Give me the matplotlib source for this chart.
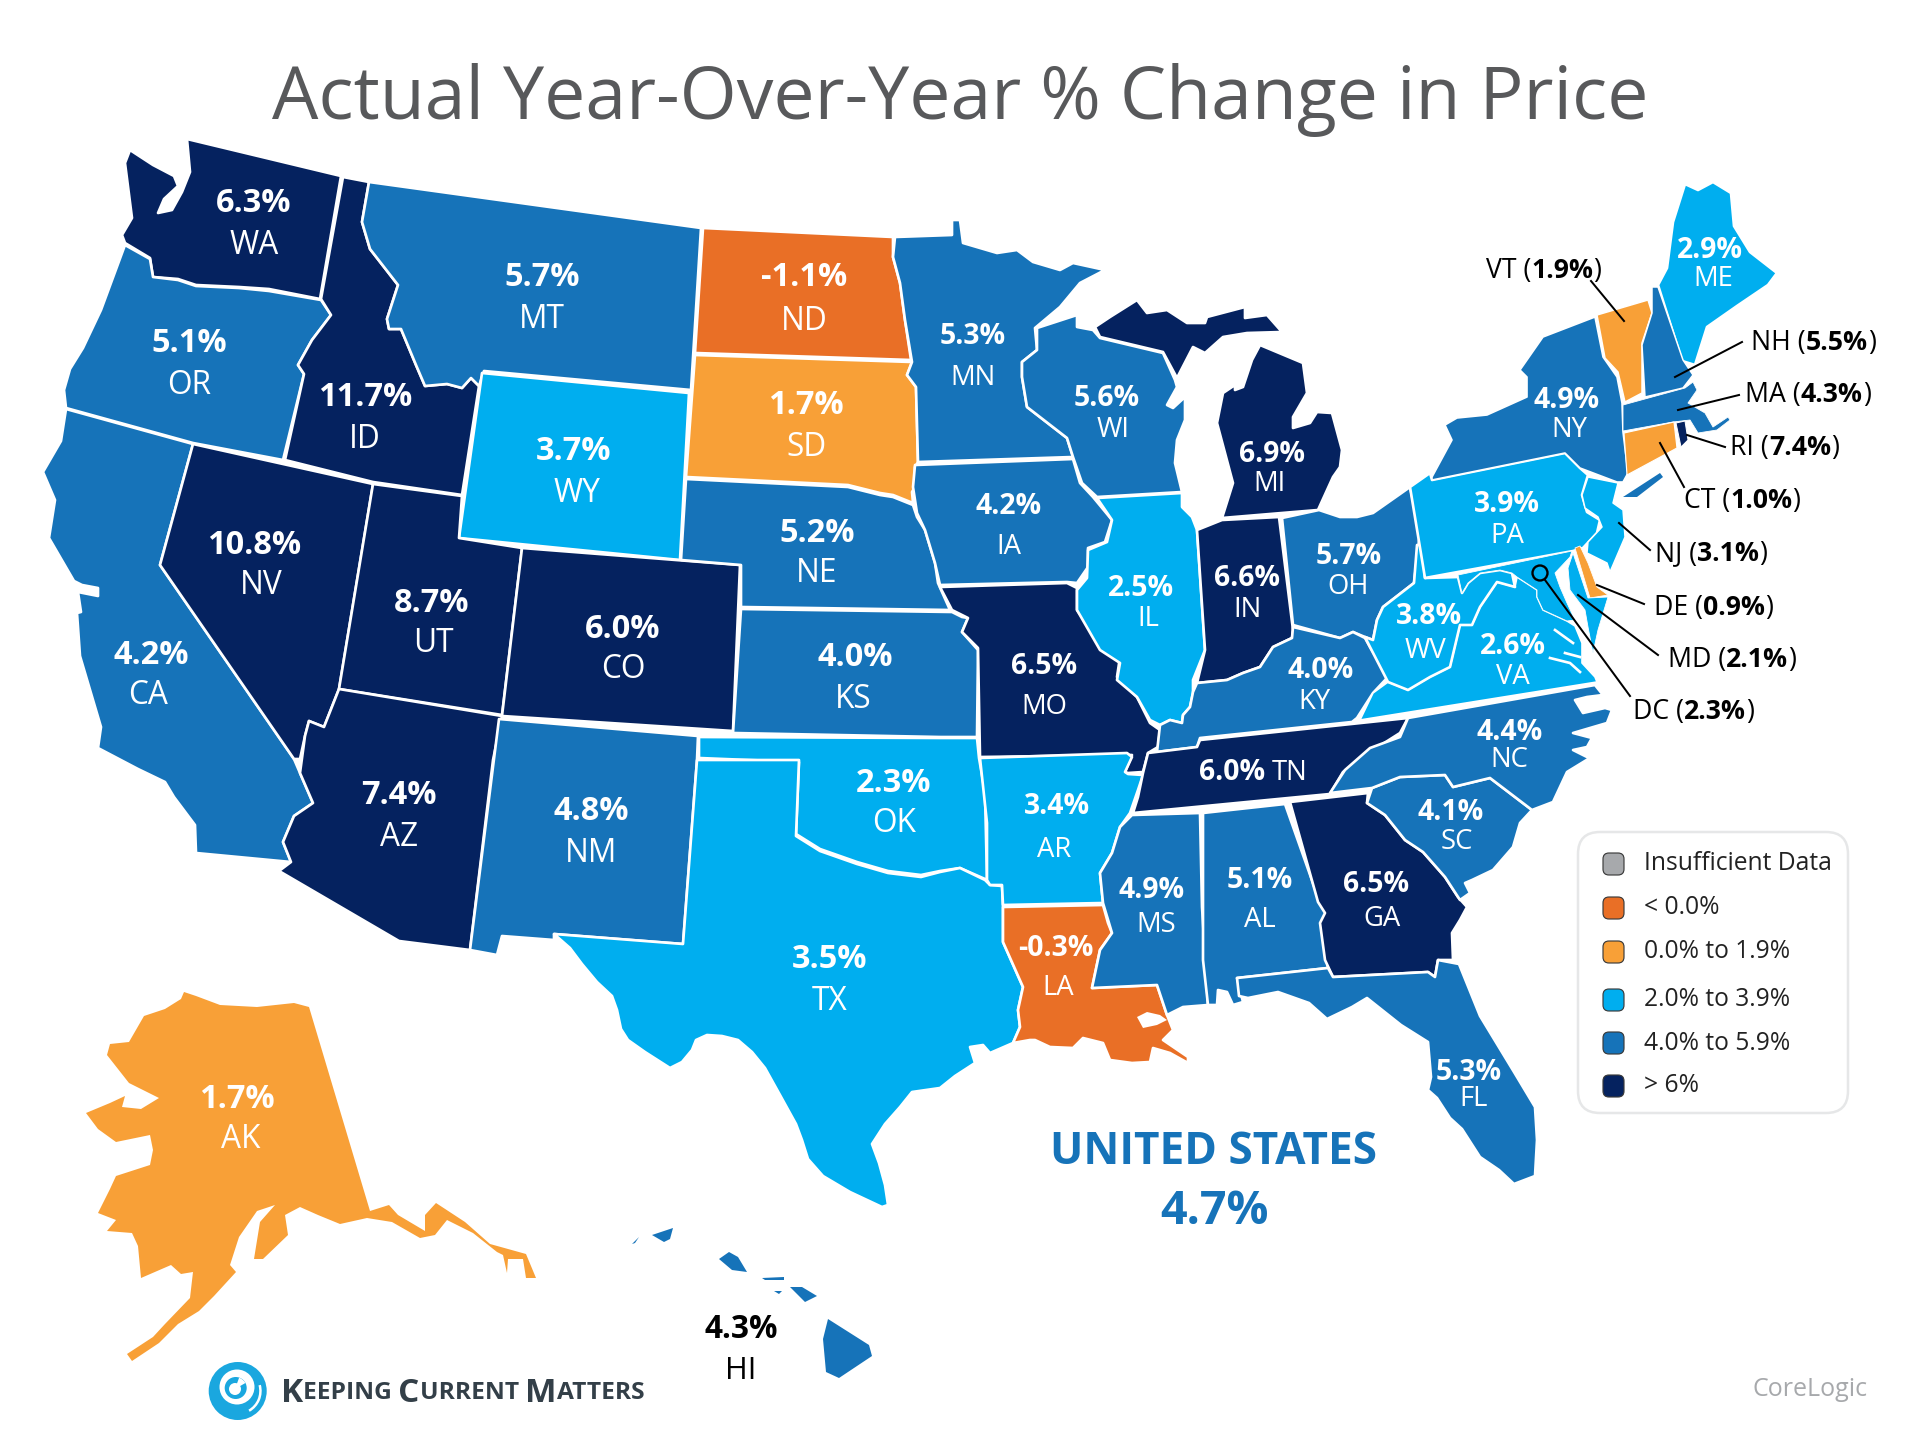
import numpy as np, matplotlib
matplotlib.use("Agg"); import matplotlib.pyplot as plt
from matplotlib.patches import Circle, FancyBboxPatch, Wedge
plt.rcParams["font.family"] = ["Open Sans", "DejaVu Sans"]

# values
codes = ["WA","OR","CA","NV","ID","MT","WY","UT","CO","AZ","NM","ND","SD","NE","KS","OK","TX","MN","IA","MO","AR","LA",
         "WI","IL","MI","IN","OH","KY","TN","MS","AL","GA","FL","SC","NC","VA","WV","PA","NY","ME","AK","HI",
         "VT","NH","MA","RI","CT","NJ","DE","MD"]
values = [6.3,5.1,4.2,10.8,11.7,5.7,3.7,8.7,6.0,7.4,4.8,-1.1,1.7,5.2,4.0,2.3,3.5,5.3,4.2,6.5,3.4,-0.3,
          5.6,2.5,6.9,6.6,5.7,4.0,6.0,4.9,5.1,6.5,5.3,4.1,4.4,2.6,3.8,3.9,4.9,2.9,1.7,4.3,
          1.9,5.5,4.3,7.4,1.0,3.1,0.9,2.1]
dc_value = 2.3
us_value = 4.7
bin_edges = [0, 2, 4, 6]
bin_colors = ["#e96f26", "#f8a037", "#00aeef", "#1673b9", "#05225f"]
legend_labels = ["Insufficient Data", "< 0.0%", "0.0% to 1.9%", "2.0% to 3.9%", "4.0% to 5.9%", "> 6%"]
legend_colors = ["#a7a9ac"] + bin_colors

# state outlines, traced in image pixels
WA = [(187,139),(341,176),(320,299),(269,289),(239,287),(196,285),(178,279),(153,277),(150,258),(125,243),(122,235),(132,218),(125,163),(130,150),(153,165),(174,176),(178,186),(164,199),(158,213),(172,210),(182,192),(190,172)]
OR = [(125,245),(150,259),(153,277),(178,280),(196,286),(239,288),(269,291),(321,300),(331,315),(312,340),(298,365),(304,374),(283,460),(193,443),(66,408),(64,390),(70,369),(83,348),(101,310)]
CA = [(66,409),(193,444),(160,565),(294,759),(300,773),(313,803),(294,816),(283,842),(291,862),(196,853),(195,825),(174,797),(165,782),(138,769),(98,748),(101,727),(80,656),(77,613),(81,612),(78,592),(98,596),(98,588),(82,585),(74,581),(49,538),(55,500),(43,472),(61,441)]
NV = [(193,444),(373,484),(339,689),(324,727),(309,721),(305,736),(300,759),(294,759),(160,565)]
ID = [(343,177),(369,182),(362,222),(370,249),(398,285),(387,319),(389,329),(401,329),(416,365),(425,386),(447,384),(462,388),(471,378),(479,386),(462,495),(373,482),(285,460),(304,374),(298,365),(312,340),(331,315),(321,299)]
MT = [(369,182),(701,228),(691,390),(484,371),(479,386),(471,378),(462,388),(447,384),(425,386),(416,365),(401,329),(389,329),(387,319),(398,285),(370,249),(362,222)]
WY = [(482,373),(689,393),(680,560),(459,538)]
UT = [(373,484),(462,496),(459,538),(522,548),(502,715),(339,689)]
CO = [(522,548),(740,565),(733,731),(502,716)]
AZ = [(339,689),(502,716),(493,760),(470,950),(399,941),(279,871),(291,862),(283,842),(294,816),(313,803),(300,773),(305,736),(309,721),(324,727)]
NM = [(499,719),(698,736),(697,760),(683,944),(554,934),(554,940),(502,936),(497,955),(470,950)]
ND = [(703,228),(893,237),(893,257),(900,283),(905,320),(911,360),(695,353)]
SD = [(695,355),(912,362),(907,375),(916,387),(918,462),(915,467),(915,487),(912,492),(913,503),(893,495),(880,493),(848,485),(686,477)]
NE = [(686,479),(848,487),(880,495),(893,497),(913,505),(917,517),(925,530),(935,563),(938,583),(950,610),(741,607),(741,565),(681,560)]
KS = [(741,609),(952,612),(962,617),(968,618),(962,632),(978,650),(977,737),(940,737),(733,733)]
OK = [(699,737),(940,738),(977,738),(979,758),(985,793),(987,880),(985,879),(960,868),(940,871),(921,875),(888,871),(857,862),(820,849),(796,834),(799,762),(699,758)]
TX = [(697,760),(799,760),(796,836),(820,851),(857,864),(888,873),(921,877),(940,872),(960,868),(985,880),(990,885),(1002,886),(1003,907),(1003,942),(1023,987),(1018,1010),(1020,1027),(1013,1043),(990,1053),(983,1045),(970,1047),(975,1063),(955,1076),(940,1088),(912,1092),(900,1107),(885,1124),(872,1144),(879,1163),(885,1185),(888,1205),(882,1207),(850,1192),(823,1176),(808,1159),(802,1140),(796,1124),(780,1095),(765,1068),(752,1052),(738,1040),(722,1036),(707,1035),(696,1040),(692,1050),(682,1062),(670,1068),(645,1052),(628,1040),(621,1029),(617,1010),(612,996),(597,982),(582,964),(570,948),(554,934),(683,944)]
MN = [(952,235),(952,220),(960,220),(963,243),(997,253),(1017,250),(1033,262),(1060,270),(1073,263),(1105,270),(1080,283),(1060,307),(1035,328),(1037,350),(1022,362),(1022,377),(1027,407),(1067,438),(1073,457),(918,462),(916,387),(907,375),(912,362),(905,320),(900,283),(893,257),(895,237)]
IA = [(915,465),(1073,459),(1080,483),(1093,497),(1112,520),(1105,542),(1088,548),(1088,567),(1077,583),(1067,582),(940,585),(935,563),(925,530),(917,513),(913,487)]
MO = [(940,587),(1067,583),(1077,588),(1077,610),(1103,647),(1120,657),(1117,677),(1137,697),(1150,723),(1160,730),(1158,747),(1148,753),(1143,772),(1128,773),(1125,772),(1132,755),(980,757),(978,648),(962,632),(968,618),(952,610)]
AR = [(980,758),(1127,753),(1132,757),(1125,772),(1128,774),(1143,775),(1138,790),(1130,813),(1120,827),(1112,853),(1100,873),(1103,903),(1003,905),(1002,885),(990,885),(987,880),(987,823)]
LA = [(1003,907),(1103,905),(1108,923),(1112,933),(1100,950),(1092,988),(1157,985),(1167,1015),(1173,1030),(1163,1040),(1188,1057),(1188,1063),(1170,1053),(1153,1048),(1150,1062),(1132,1063),(1110,1060),(1103,1043),(1083,1038),(1073,1048),(1050,1047),(1035,1040),(1030,1040),(1013,1043),(1020,1027),(1018,1010),(1023,987),(1003,942)]
LAKE = [(1137,1017),(1147,1012),(1160,1015),(1167,1020),(1157,1025),(1143,1028)]
WI = [(1037,328),(1077,315),(1077,327),(1093,330),(1100,338),(1163,353),(1175,380),(1177,387),(1167,405),(1173,408),(1185,397),(1185,420),(1177,440),(1175,463),(1182,492),(1097,497),(1082,483),(1073,457),(1067,438),(1027,407),(1022,377),(1022,362),(1037,350)]
IL = [(1097,498),(1182,493),(1182,507),(1192,517),(1197,530),(1205,650),(1193,680),(1193,693),(1190,707),(1183,715),(1182,723),(1170,720),(1160,725),(1150,720),(1137,697),(1117,680),(1120,663),(1100,650),(1077,610),(1077,590),(1087,578),(1088,550),(1107,542),(1112,520)]
MI_UP = [(1095,327),(1110,317),(1137,300),(1147,313),(1167,310),(1187,323),(1205,323),(1207,317),(1245,307),(1245,318),(1267,315),(1282,332),(1247,333),(1223,337),(1205,353),(1193,347),(1177,378),(1163,352),(1100,337)]
MI_LP = [(1260,345),(1303,363),(1307,393),(1293,417),(1293,428),(1310,423),(1317,412),(1332,413),(1342,450),(1340,467),(1333,477),(1318,510),(1222,518),(1233,483),(1217,423),(1223,393),(1235,385),(1235,390),(1243,387),(1252,360)]
IN = [(1197,530),(1222,520),(1279,517),(1293,630),(1292,638),(1273,647),(1260,667),(1243,673),(1227,680),(1197,683),(1205,650)]
OH = [(1282,518),(1319,510),(1340,517),(1357,517),(1373,513),(1410,487),(1420,533),(1414,583),(1383,607),(1377,620),(1373,640),(1365,637),(1353,632),(1340,638),(1293,625)]
KY = [(1293,627),(1340,638),(1353,632),(1365,638),(1370,647),(1388,677),(1373,693),(1357,718),(1352,722),(1200,738),(1197,747),(1157,752),(1160,725),(1170,720),(1182,723),(1183,715),(1190,707),(1193,692),(1197,683),(1227,680),(1243,673),(1260,667),(1273,647),(1292,638)]
TN = [(1200,740),(1408,718),(1400,733),(1370,752),(1343,772),(1330,794),(1133,813),(1138,797),(1143,773),(1148,753),(1197,747)]
MS = [(1132,815),(1200,813),(1202,907),(1208,1005),(1183,1007),(1167,1015),(1157,985),(1092,988),(1100,950),(1112,933),(1103,903),(1100,873),(1112,853),(1120,827)]
AL = [(1203,813),(1285,804),(1320,903),(1327,915),(1322,930),(1328,968),(1237,978),(1243,1002),(1233,1005),(1227,992),(1218,990),(1217,1005),(1208,1005),(1203,960)]
GA = [(1290,802),(1368,793),(1367,803),(1385,815),(1405,840),(1423,852),(1445,877),(1458,897),(1467,907),(1460,920),(1452,933),(1453,960),(1438,960),(1435,977),(1428,972),(1333,977),(1325,960),(1320,923),(1325,913),(1318,902)]
FL = [(1237,978),(1328,968),(1333,977),(1428,972),(1435,977),(1438,960),(1459,964),(1480,1016),(1514,1072),(1535,1107),(1537,1140),(1535,1176),(1514,1184),(1499,1170),(1480,1157),(1462,1129),(1450,1118),(1437,1098),(1428,1090),(1431,1077),(1428,1042),(1401,1025),(1367,998),(1352,1007),(1327,1019),(1309,1003),(1278,992),(1248,998),(1239,996)]
SC = [(1372,788),(1400,777),(1445,775),(1453,787),(1490,778),(1532,810),(1520,823),(1513,847),(1493,870),(1472,880),(1465,883),(1470,893),(1460,900),(1445,877),(1423,852),(1405,840),(1385,815),(1367,803)]
NC = [(1408,718),(1595,685),(1603,695),(1587,697),(1575,700),(1583,713),(1605,708),(1612,710),(1607,723),(1573,733),(1592,738),(1587,747),(1573,750),(1587,757),(1598,753),(1567,772),(1553,802),(1532,810),(1490,778),(1453,787),(1445,775),(1400,777),(1372,788),(1330,793),(1345,770),(1370,748),(1400,737)]
VA = [(1360,720),(1597,682),(1595,677),(1582,663),(1582,643),(1575,626),(1567,621),(1543,610),(1537,597),(1537,590),(1517,577),(1515,587),(1497,582),(1480,607),(1472,625),(1460,625),(1450,667),(1430,677),(1408,690),(1388,682),(1373,693)]
WV = [(1425,578),(1458,577),(1462,593),(1468,583),(1480,573),(1500,570),(1512,573),(1515,587),(1497,582),(1480,607),(1472,625),(1460,625),(1450,667),(1430,677),(1408,690),(1388,682),(1370,647),(1365,637),(1373,640),(1377,620),(1383,607),(1414,583),(1417,545),(1422,545)]
PA = [(1410,487),(1430,473),(1432,480),(1565,453),(1580,468),(1588,475),(1582,495),(1587,512),(1600,520),(1597,533),(1583,548),(1573,551),(1425,578)]
NY = [(1432,477),(1452,440),(1445,425),(1457,418),(1487,415),(1527,397),(1527,377),(1520,370),(1543,337),(1595,317),(1603,357),(1617,377),(1622,403),(1623,432),(1628,473),(1623,482),(1617,482),(1580,468),(1565,453),(1432,480)]
LONG_ISLAND = [(1623,497),(1660,473),(1663,477),(1637,497)]
NJ = [(1588,477),(1618,483),(1613,503),(1623,510),(1625,537),(1610,572),(1607,563),(1587,553),(1588,542),(1602,527),(1598,517),(1585,508),(1582,495)]
DE = [(1575,548),(1580,546),(1588,563),(1597,587),(1608,595),(1590,598)]
MD_WEST = [(1458,575),(1572,551),(1570,557),(1555,573),(1560,587),(1567,603),(1575,620),(1567,621),(1543,610),(1537,597),(1537,590),(1517,577),(1512,573),(1500,570),(1480,573),(1468,583),(1462,593)]
MD_EAST = [(1573,553),(1588,598),(1608,597),(1598,630),(1593,653),(1588,627),(1585,610),(1570,590),(1568,568)]
CT = [(1624,433),(1674,422),(1677,448),(1627,475)]
RI = [(1676,423),(1685,421),(1688,440),(1681,447)]
MA = [(1623,405),(1685,388),(1693,382),(1697,390),(1688,403),(1705,413),(1713,427),(1728,417),(1730,420),(1717,430),(1698,433),(1690,420),(1673,422),(1623,431)]
VT = [(1597,315),(1648,300),(1652,313),(1642,343),(1642,393),(1625,402),(1618,372),(1605,358)]
NH = [(1652,287),(1658,287),(1683,360),(1693,375),(1683,388),(1645,397),(1642,345),(1652,313)]
ME = [(1658,285),(1667,268),(1673,222),(1685,184),(1698,190),(1713,182),(1731,193),(1734,226),(1750,252),(1777,273),(1768,285),(1737,306),(1707,327),(1695,365),(1682,361)]
AK = [(184,992),(196,996),(220,1005),(257,1007),(294,1003),(309,1007),(370,1211),(389,1205),(398,1215),(425,1231),(425,1215),(436,1203),(465,1222),(490,1244),(526,1254),(536,1278),(526,1278),(523,1259),(508,1259),(507,1273),(503,1255),(497,1252),(473,1233),(447,1220),(435,1235),(420,1238),(392,1222),(367,1218),(340,1224),(318,1215),(300,1207),(285,1215),(288,1235),(263,1259),(254,1259),(260,1222),(275,1205),(257,1211),(239,1237),(230,1265),(236,1272),(214,1296),(199,1311),(178,1324),(159,1343),(132,1361),(127,1354),(153,1337),(165,1324),(190,1298),(193,1272),(181,1274),(171,1265),(141,1278),(138,1246),(132,1233),(107,1231),(116,1220),(98,1213),(110,1189),(116,1176),(150,1165),(153,1150),(150,1135),(116,1142),(98,1129),(86,1113),(110,1103),(125,1096),(122,1107),(141,1109),(159,1098),(129,1083),(107,1055),(110,1044),(129,1042),(144,1016),(165,1009),(181,999)]
HI_BIG = [(828,1319),(869,1345),(872,1356),(839,1378),(826,1372),(823,1339)]
HI_MAUI = [(790,1287),(802,1287),(817,1296),(805,1302)]
HI_MOLOKAI = [(762,1278),(784,1277),(784,1280),(765,1280)]
HI_LANAI = [(774,1291),(782,1291),(779,1294)]
HI_OAHU = [(729,1252),(738,1257),(747,1272),(732,1270),(719,1259)]
HI_KAUAI = [(652,1235),(673,1228),(670,1239),(664,1242)]
HI_NIIHAU = [(632,1244),(639,1237),(635,1243)]
shapes = {"WA":[WA],"OR":[OR],"CA":[CA],"NV":[NV],"ID":[ID],"MT":[MT],"WY":[WY],"UT":[UT],"CO":[CO],"AZ":[AZ],"NM":[NM],"ND":[ND],"SD":[SD],"NE":[NE],"KS":[KS],"OK":[OK],"TX":[TX],"MN":[MN],"IA":[IA],"MO":[MO],"AR":[AR],"LA":[LA],
          "WI":[WI],"IL":[IL],"MI":[MI_UP,MI_LP],"IN":[IN],"OH":[OH],"KY":[KY],"TN":[TN],"MS":[MS],"AL":[AL],"GA":[GA],"FL":[FL],"SC":[SC],"NC":[NC],"VA":[VA],"WV":[WV],"PA":[PA],"NY":[NY,LONG_ISLAND],"ME":[ME],"AK":[AK],
          "HI":[HI_BIG,HI_MAUI,HI_MOLOKAI,HI_LANAI,HI_OAHU,HI_KAUAI,HI_NIIHAU],"VT":[VT],"NH":[NH],"MA":[MA],"RI":[RI],"CT":[CT],"NJ":[NJ],"DE":[DE],"MD":[MD_WEST,MD_EAST]}
# rivers cut into Virginia, white
rivers = [[(1555,630),(1573,643)], [(1565,653),(1580,657)], [(1550,658),(1570,663),(1580,672)]]
thin_edge = {"VT":0.9,"NH":0.9,"MA":0.5,"RI":0.6,"CT":0.7,"NJ":0.9,"DE":0.5,"MD":0.5,"VA":1.0,"NY":1.0,"AK":0,"HI":0}

# label places: percent x,y then code x,y
big_labels = {"WA":(254,204,254,246),"MT":(542,278,542,320),"ND":(804,278,804,321),"OR":(189,344,189,385),"ID":(365,398,365,440),"SD":(806,405,806,447),"WY":(574,452,577,494),"NV":(254,545,261,586),"NE":(817,534,817,573),"UT":(432,603,433,644),"CO":(623,629,623,670),"CA":(151,655,148,696),"KS":(855,658,853,700),"AZ":(399,796,399,837),"NM":(591,811,591,853),"OK":(894,783,894,824),"TX":(830,959,830,1001),"AK":(237,1099,241,1140)}
small_labels = {"MN":(973,336,973,378),"WI":(1107,398,1113,430),"IA":(1009,506,1009,547),"MI":(1272,455,1269,484),"IL":(1141,588,1148,619),"IN":(1247,578,1247,610),"MO":(1044,666,1044,707),"KY":(1321,670,1314,702),"AR":(1057,807,1054,850),"TN":(1232,773,1290,773),"MS":(1152,890,1156,925),"AL":(1260,881,1260,920),"GA":(1376,885,1382,919),"LA":(1056,949,1058,988),"NY":(1567,400,1569,430),"PA":(1507,505,1507,536),"OH":(1349,557,1348,587),"WV":(1429,617,1425,651),"VA":(1513,647,1513,677),"NC":(1510,732,1509,760),"SC":(1451,813,1457,842),"FL":(1469,1072,1474,1099),"ME":(1710,251,1713,279)}
# callouts: text left x,y then leader x0,y0,x1,y1
callouts = {"VT":(1486,271,1591,281,1624,321),"NH":(1751,343,1742,342,1675,377),"MA":(1745,395,1739,395,1678,410),"RI":(1730,448,1725,447,1687,435),"CT":(1684,501,1684,487,1660,443),"NJ":(1655,554,1650,550,1619,523),"DE":(1654,608,1644,604,1597,585),"MD":(1668,660,1658,655,1578,595),"DC":(1633,712,1630,696,1545,580)}

fig = plt.figure(figsize=(16,12), dpi=120)
ax = fig.add_axes([0,0,1,1]); ax.set_xlim(0,1920); ax.set_ylim(1440,0); ax.axis("off")
val = dict(zip(codes, values)); val["DC"] = dc_value

for code in codes:
    col = bin_colors[np.digitize(val[code], bin_edges)]
    lw = thin_edge.get(code, 1.6)
    for poly in shapes[code]:
        p = np.array(poly)
        ec = "white" if lw > 0 and poly is not LONG_ISLAND else "none"
        ax.fill(p[:,0], p[:,1], fc=col, ec=ec, lw=lw, joinstyle="round", zorder=2)
p = np.array(LAKE); ax.fill(p[:,0], p[:,1], fc="white", ec="none", zorder=3)
for riv in rivers:
    p = np.array(riv); ax.plot(p[:,0], p[:,1], color="white", lw=1.6, zorder=3)

ax.text(960, 100, "Actual Year-Over-Year % Change in Price", ha="center", va="center", fontsize=44, color="#58595b")

def fmt(v): return f"{v:.1f}%"
for table, fs in ((big_labels, 19.5), (small_labels, 17)):
    for code, (x0,y0,x1,y1) in table.items():
        ax.text(x0, y0, fmt(val[code]), ha="center", va="center", fontsize=fs, fontweight="bold", color="white", zorder=5)
        ax.text(x1, y1, code, ha="center", va="center", fontsize=fs-0.5, color="white", zorder=5)
ax.text(741, 1329, fmt(val["HI"]), ha="center", va="center", fontsize=19, fontweight="bold", color="black")
ax.text(741, 1371, "HI", ha="center", va="center", fontsize=18.5, color="black")

r = fig.canvas.get_renderer()
def run(x, y, parts, **kw):
    # lay out text pieces one after the other, returns end x
    for s, extra in parts:
        t = ax.text(x, y, s, va="center", ha="left", **{**kw, **extra})
        bb = t.get_window_extent(r)
        x += bb.width * 1920 / fig.bbox.width
    return x

for code, (tx,ty,x0,y0,x1,y1) in callouts.items():
    run(tx, ty, [(code + " (", {}), (fmt(val[code]), {"fontweight":"bold"}), (")", {})], fontsize=16, color="black", zorder=6)
    ax.plot([x0,x1], [y0,y1], color="black", lw=1.2, zorder=6)
ax.add_patch(Circle((1540,573), 7.5, fc="none", ec="black", lw=1.4, zorder=6))

ax.text(1214, 1152, "UNITED STATES", ha="center", va="center", fontsize=26.5, fontweight="bold", color="#1673b9")
ax.text(1214, 1211, fmt(us_value), ha="center", va="center", fontsize=28, fontweight="bold", color="#1673b9")

# legend box
ax.add_patch(FancyBboxPatch((1578,832), 270, 281, boxstyle="round,pad=0,rounding_size=22", fc="white", ec="#e6e7e8", lw=1.5, zorder=1))
for lab, col, y in zip(legend_labels, legend_colors, [864,908,952,1000,1043,1086]):
    ax.add_patch(FancyBboxPatch((1603,y-11), 21, 22, boxstyle="round,pad=0,rounding_size=6", fc=col, ec="#3a3a3a", lw=0.7, zorder=3))
    ax.text(1644, y, lab, va="center", fontsize=14.8, color="#222222", zorder=3)

# logo swirl
logo = "#1aa7df"
ax.add_patch(Circle((237.7,1391), 29, fc=logo, ec="none"))
ax.add_patch(Circle((237,1387), 17.5, fc="white", ec="none"))
ax.add_patch(Wedge((237.7,1391), 24, 345, 60, width=2.5, fc="white", ec="none"))
ax.add_patch(Circle((235.7,1388), 11, fc=logo, ec="none"))
ax.add_patch(Circle((235,1389), 6, fc="white", ec="none"))
ax.add_patch(Wedge((235,1389), 12, 290, 330, fc="white", ec="none"))
big = {"fontsize":20}; small = {"fontsize":14.7}
run(281, 1393, [("K", big), ("EEPING ", small), ("C", big), ("URRENT ", small), ("M", big), ("ATTERS", small)], color="#333f48", fontweight="bold")
ax.text(1753, 1389, "CoreLogic", va="center", fontsize=15, color="#a7a9ac")

plt.savefig("out.png", dpi=120)
